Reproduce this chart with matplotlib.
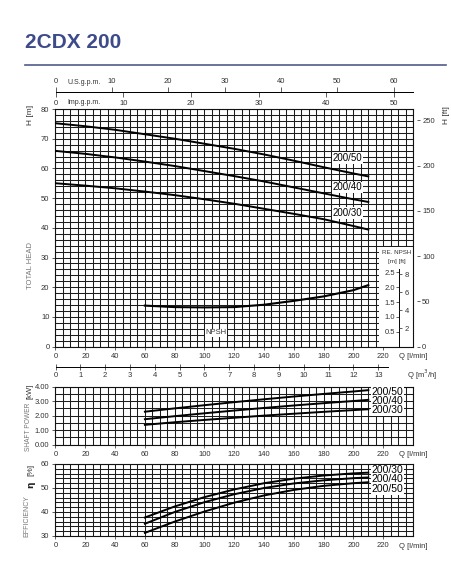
import matplotlib
matplotlib.use("Agg")
import matplotlib.pyplot as plt
import numpy as np
from matplotlib import font_manager
from matplotlib.patches import Rectangle
from matplotlib.ticker import FormatStrFormatter

# --- values ---
models = ["200/50", "200/40", "200/30"]

q = [0, 20, 40, 60, 80, 100, 120, 140, 160, 180, 200, 210]
head_50 = [75.2, 74.2, 73.0, 71.5, 70.0, 68.3, 66.6, 64.7, 62.6, 60.4, 58.3, 57.3]
head_40 = [65.9, 64.9, 63.7, 62.3, 60.8, 59.1, 57.4, 55.6, 53.6, 51.6, 49.6, 48.7]
head_30 = [55.0, 54.2, 53.3, 52.2, 51.0, 49.6, 48.1, 46.4, 44.7, 42.9, 40.6, 39.4]

q_op = [60, 80, 100, 120, 140, 160, 180, 200, 210]
npsh = [1.38, 1.33, 1.32, 1.33, 1.41, 1.54, 1.69, 1.90, 2.07]

power_50 = [2.27, 2.50, 2.72, 2.93, 3.13, 3.32, 3.50, 3.67, 3.76]
power_40 = [1.75, 1.96, 2.16, 2.35, 2.53, 2.70, 2.86, 3.01, 3.09]
power_30 = [1.36, 1.54, 1.70, 1.85, 2.00, 2.13, 2.26, 2.38, 2.44]

eff_30 = [37.7, 42.3, 46.2, 49.4, 52.0, 53.9, 55.2, 56.1, 56.4]
eff_40 = [35.1, 40.0, 44.1, 47.4, 50.0, 51.9, 53.2, 54.1, 54.4]
eff_50 = [31.3, 36.0, 40.2, 43.9, 46.9, 49.2, 50.9, 52.0, 52.4]

q_ticks = [0, 20, 40, 60, 80, 100, 120, 140, 160, 180, 200, 220]
head_ticks = [0, 10, 20, 30, 40, 50, 60, 70, 80]
ft_ticks = [0, 50, 100, 150, 200, 250]
usgpm_ticks = [0, 10, 20, 30, 40, 50, 60]
impgpm_ticks = [0, 10, 20, 30, 40, 50]
m3h_ticks = [0, 1, 2, 3, 4, 5, 6, 7, 8, 9, 10, 11, 12, 13]
npsh_m_ticks = [0.5, 1.0, 1.5, 2.0, 2.5]
npsh_ft_ticks = [2, 4, 6, 8]
power_ticks = [0, 1, 2, 3, 4]
eff_ticks = [30, 40, 50, 60]

names = {f.name for f in font_manager.fontManager.ttflist}
NARROW = "Liberation Sans Narrow" if "Liberation Sans Narrow" in names else "Liberation Sans"
plt.rcParams["font.family"] = [NARROW, "DejaVu Sans"]

W, H = 452, 584
fig = plt.figure(figsize=(W / 100, H / 100), dpi=100)


def rect(l, t, r, b):
    return [l / W, 1 - b / H, (r - l) / W, (b - t) / H]


def fx(x):
    return x / W


def fy(y):
    return 1 - y / H


TICK = dict(labelsize=5.5, color="#444444", labelcolor="#333333", width=0.6)


def grid_panel(ax, ylim, ymajor, ystep, fmt):
    ax.set_xlim(0, 240)
    ax.set_ylim(*ylim)
    ax.set_xticks(q_ticks)
    ax.set_xticks(np.arange(0, 241, 5), minor=True)
    ax.set_yticks(ymajor)
    ax.set_yticks(np.arange(ylim[0], ylim[1] + ystep / 2, ystep), minor=True)
    ax.yaxis.set_major_formatter(FormatStrFormatter(fmt))
    ax.grid(which="both", color="#1c1c1c", lw=0.75)
    ax.set_axisbelow(True)
    ax.tick_params(which="minor", length=0)
    ax.tick_params(which="major", length=2.2, pad=2.2, **TICK)
    for s in ax.spines.values():
        s.set_linewidth(0.8)
        s.set_color("#111111")


# title
fig.text(fx(25), fy(42), "2CDX 200", fontsize=15, fontweight="bold",
         color="#3d4b8a", family="Liberation Sans", va="center", ha="left")
fig.add_artist(plt.Line2D([fx(25), fx(446)], [fy(65), fy(65)], color="#4f5b8c", lw=1.2))

# ---------- head chart ----------
ax_h = fig.add_axes(rect(55.5, 109, 413, 346.6))
grid_panel(ax_h, (0, 80), head_ticks, 2, "%d")

for y, name in zip([head_50, head_40, head_30], models):
    ax_h.plot(q, y, color="black", lw=1.4, zorder=3,
              marker="|", markevery=[3], ms=4, mew=0.8)
ax_h.plot(q_op, np.array(npsh) * 10, color="black", lw=1.5, zorder=3)

for hy, name in zip([63.4, 53.6, 44.9], models):
    ax_h.text(196, hy, name, fontsize=7, ha="center", va="center", zorder=4,
              bbox=dict(facecolor="white", edgecolor="none", pad=0.6))
ax_h.text(108, 4.6, "NPSH", fontsize=5.5, ha="center", va="center", color="#333333", zorder=4,
          bbox=dict(facecolor="white", edgecolor="none", pad=0.3))

# NPSH scale box
ax_h.add_patch(Rectangle((217, 0), 23, 33.5, facecolor="white", edgecolor="none", zorder=1))
ax_h.text(229, 31.6, "RE. NPSH", fontsize=4.5, ha="center", va="center", color="#333333")
ax_h.text(229, 28.6, "[m] [ft]", fontsize=4.5, ha="center", va="center", color="#333333")

npsh_m = ax_h.secondary_yaxis(230.8 / 240, functions=(lambda h: h / 10, lambda n: n * 10))
npsh_m.set_zorder(5)
npsh_m.set_alignment("left")
npsh_m.set_yticks(npsh_m_ticks)
npsh_m.yaxis.set_major_formatter(FormatStrFormatter("%.1f"))
npsh_m.spines["left"].set_bounds(0, 2.6)
npsh_m.spines["left"].set_linewidth(0.7)
npsh_m.tick_params(length=2.2, pad=1, **TICK)

npsh_ft = ax_h.secondary_yaxis(230.8 / 240, functions=(lambda h: h / 10 / 0.3048, lambda f: f * 3.048))
npsh_ft.set_zorder(5)
npsh_ft.set_yticks(npsh_ft_ticks)
npsh_ft.spines["right"].set_visible(False)
npsh_ft.tick_params(length=2.2, pad=1.5, **TICK)

# H in feet on the right
h_ft = ax_h.secondary_yaxis(1 + 4 / 357.5, functions=(lambda m: m / 0.3048, lambda f: f * 0.3048))
h_ft.set_yticks(ft_ticks)
h_ft.spines["right"].set_visible(False)
h_ft.tick_params(length=2.2, pad=1.5, **TICK)

# gallons per minute scales on top
us = ax_h.secondary_xaxis(1 + 17 / 237.6, functions=(lambda x: x / 3.785, lambda g: g * 3.785))
us.set_xticks(usgpm_ticks)
us.spines["top"].set_linewidth(0.7)
us.tick_params(length=3.5, pad=1.5, **TICK)

imp = ax_h.secondary_xaxis(1 + 17 / 237.6, functions=(lambda x: x / 4.546, lambda g: g * 4.546))
imp.set_alignment("bottom")
imp.set_xticks(impgpm_ticks)
imp.spines["bottom"].set_linewidth(0.7)
imp.tick_params(length=3.5, pad=2.5, **TICK)

fig.text(fx(67), fy(82), "U.S.g.p.m.", fontsize=5, color="#333333", va="center")
fig.text(fx(67), fy(103), "Imp.g.p.m.", fontsize=5, color="#333333", va="center")

# cubic metres per hour scale
m3h = ax_h.secondary_xaxis(-(367 - 346.6) / 237.6, functions=(lambda x: x * 0.06, lambda m: m / 0.06))
m3h.set_xticks(m3h_ticks)
m3h.spines["bottom"].set_bounds(0, 13.4)
m3h.spines["bottom"].set_linewidth(0.7)
m3h.tick_params(direction="inout", length=4, pad=1.5, **TICK)

fig.text(fx(399), fy(357), "Q [l/min]", fontsize=5.5, color="#333333", va="center")
fig.text(fx(407), fy(375), "Q [m$^3$/h]", fontsize=5.5, color="#333333", va="center")
fig.text(fx(30), fy(115), "H [m]", fontsize=6, rotation=90, ha="center", va="center", color="#333333")
fig.text(fx(447), fy(115), "H [ft]", fontsize=6, rotation=90, ha="center", va="center", color="#333333")
fig.text(fx(30), fy(266), "TOTAL HEAD", fontsize=5.5, rotation=90, ha="center", va="center", color="#777777")

# ---------- shaft power ----------
ax_p = fig.add_axes(rect(55.5, 386.7, 413, 444.5))
grid_panel(ax_p, (0, 4), power_ticks, 0.5, "%.2f")
for y in [power_50, power_40, power_30]:
    ax_p.plot(q_op, y, color="black", lw=1.4, zorder=3)
for py, name in zip([3.64, 3.02, 2.38], models):
    ax_p.text(223, py, name, fontsize=7.5, ha="center", va="center", zorder=4,
              bbox=dict(facecolor="white", edgecolor="none", pad=0.4))
fig.text(fx(399), fy(454), "Q [l/min]", fontsize=5.5, color="#333333", va="center")
fig.text(fx(29), fy(427), "SHAFT POWER", fontsize=4.8, rotation=90, ha="center", va="center", color="#777777")
fig.text(fx(30), fy(391), "[kW]", fontsize=5.5, rotation=90, ha="center", va="center", color="#333333")

# ---------- efficiency ----------
ax_e = fig.add_axes(rect(55.5, 464, 413, 536))
grid_panel(ax_e, (30, 60), eff_ticks, 2, "%d")
for y in [eff_30, eff_40, eff_50]:
    ax_e.plot(q_op, y, color="black", lw=1.4, zorder=3)
for ey, name in zip([57.3, 53.7, 49.5], models[::-1]):
    ax_e.text(223, ey, name, fontsize=7.5, ha="center", va="center", zorder=4,
              bbox=dict(facecolor="white", edgecolor="none", pad=0.4))
fig.text(fx(399), fy(546), "Q [l/min]", fontsize=5.5, color="#333333", va="center")
fig.text(fx(27), fy(516), "EFFICIENCY", fontsize=5, rotation=90, ha="center", va="center", color="#777777")
fig.text(fx(31), fy(485), "η", fontsize=6.5, fontweight="bold", rotation=90, ha="center", va="center",
         color="#222222", family=["DejaVu Sans"])
fig.text(fx(31), fy(470), "[%]", fontsize=6, rotation=90, ha="center", va="center", color="#333333")

fig.savefig("out.png", dpi=100)
